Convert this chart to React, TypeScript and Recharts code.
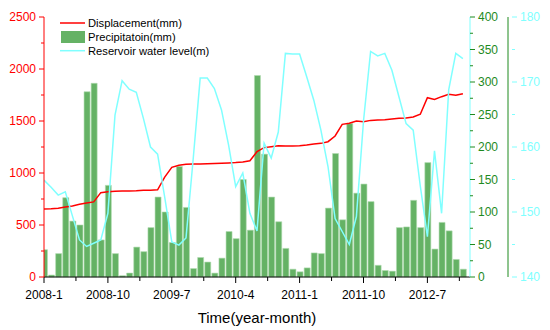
import { Bar, ComposedChart, Label, Legend, Line, XAxis, YAxis } from "recharts"

// monthly values, 2008-1 .. 2012-12
const displacement = [
  655, 657, 662, 673, 683, 699, 712, 722, 811, 820, 825, 828, 828, 829, 834, 835, 838, 960,
  1055, 1074, 1083, 1086, 1087, 1090, 1091, 1093, 1096, 1100, 1106, 1118, 1205, 1244, 1253,
  1263, 1260, 1260, 1263, 1269, 1279, 1285, 1301, 1356, 1468, 1478, 1500, 1493, 1506, 1509,
  1513, 1519, 1526, 1529, 1538, 1565, 1724, 1708, 1734, 1756, 1747, 1763,
]
const precipitation = [
  42, 3, 36, 122, 86, 80, 285, 298, 57, 141, 36, 2, 6, 46, 39, 76, 123, 100, 53, 170, 107, 13,
  30, 23, 6, 29, 70, 59, 150, 72, 310, 189, 123, 85, 44, 12, 8, 14, 37, 36, 106, 190, 88, 236,
  129, 143, 116, 18, 10, 9, 76, 77, 118, 76, 176, 43, 84, 71, 27, 12,
]
const waterLevel = [
  154.9, 153.8, 152.6, 153.1, 149.4, 145.7, 144.7, 145.2, 145.7, 149.8, 164.9, 170.2, 168.9,
  168.4, 164.4, 160.0, 158.9, 152.3, 145.4, 144.9, 146.0, 158.0, 170.6, 170.6, 169.0, 165.7,
  160.3, 153.9, 156.0, 149.8, 147.1, 160.6, 158.3, 162.3, 174.4, 174.3, 174.3, 170.8, 167.2,
  162.6, 157.0, 149.0, 147.0, 145.0, 149.3, 164.0, 174.7, 174.0, 174.4, 171.8, 167.7, 163.6,
  162.6, 154.0, 146.2, 159.4, 149.8, 168.8, 174.4, 173.6,
]

const xMajorTicks = [0, 9, 18, 27, 36, 45, 54]
const xTickLabels = ["2008-1", "2008-10", "2009-7", "2010-4", "2011-1", "2011-10", "2012-7"]
const xMinorTicks = [4.5, 13.5, 22.5, 31.5, 40.5, 49.5, 58.5]
const dispTicks = [0, 250, 500, 750, 1000, 1250, 1500, 1750, 2000, 2250, 2500]
const precTicks = [0, 25, 50, 75, 100, 125, 150, 175, 200, 225, 250, 275, 300, 325, 350, 375, 400]
const levelTicks = [140, 145, 150, 155, 160, 165, 170, 175, 180]

const data = displacement.map((d, i) => ({
  month: i,
  displacement: d,
  precipitation: precipitation[i],
  level: waterLevel[i],
}))

const FONT = "'Liberation Sans', Arial, sans-serif"
const RED = "#ff0000"
const GREEN = "#1e8a1e"
const CYAN = "#80ffff"

const PLOT_LEFT = 44
const PLOT_BOTTOM = 277

const makeYTick =
  (axisX: number, side: number, color: string, step: number) => (props: any) => {
    const { y, payload } = props
    const major = payload.value % step === 0
    const len = major ? 5 : 3
    return (
      <g>
        <line x1={axisX} x2={axisX + side * len} y1={y} y2={y} stroke={color} />
        {major && (
          <text
            x={axisX + side * 8}
            y={y}
            dy="0.36em"
            textAnchor={side < 0 ? "end" : "start"}
            fill={color}
            fontSize={12}
            fontFamily={FONT}
          >
            {payload.value}
          </text>
        )}
      </g>
    )
  }

const XTick = (props: any) => {
  const { x, payload } = props
  const idx = xMajorTicks.indexOf(payload.value)
  const major = idx >= 0
  return (
    <g>
      <line x1={x} x2={x} y1={PLOT_BOTTOM} y2={PLOT_BOTTOM + (major ? 6 : 4)} stroke="#000" />
      {major && (
        <text x={x} y={299} textAnchor="middle" fill="#000" fontSize={12} fontFamily={FONT}>
          {xTickLabels[idx]}
        </text>
      )}
    </g>
  )
}

const LegendBox = () => (
  <svg width={190} height={46} style={{ display: "block" }}>
    <line x1={2} x2={27} y1={9} y2={9} stroke={RED} strokeWidth={1.5} />
    <text x={30} y={9} dy="0.36em" fontSize={11.2} fontFamily={FONT} fill="#000">
      Displacement(mm)
    </text>
    <rect x={3} y={17} width={24} height={12} fill="#3f9f3f" fillOpacity={0.8} />
    <text x={30} y={22.7} dy="0.36em" fontSize={11.2} fontFamily={FONT} fill="#000">
      Precipitatoin(mm)
    </text>
    <line x1={2} x2={27} y1={36.7} y2={36.7} stroke={CYAN} strokeWidth={1.5} />
    <text x={30} y={36.7} dy="0.36em" fontSize={11.2} fontFamily={FONT} fill="#000">
      Reservoir water level(m)
    </text>
  </svg>
)

export default function App() {
  return (
    <div style={{ position: "absolute", left: 0, top: 0, background: "#fff" }}>
      <ComposedChart
        width={550}
        height={330}
        data={data}
        margin={{ top: 17, right: 0, bottom: 0, left: 0 }}
      >
        <XAxis
          dataKey="month"
          type="number"
          domain={[0, 60]}
          ticks={[...xMajorTicks, ...xMinorTicks].sort((a, b) => a - b)}
          interval={0}
          allowDataOverflow
          height={53}
          stroke="#000"
          tickLine={false}
          tick={<XTick />}
        >
          <Label
            value="Time(year-month)"
            position="insideBottom"
            offset={7}
            fill="#000"
            fontSize={15}
            fontFamily={FONT}
          />
        </XAxis>
        <YAxis
          yAxisId="disp"
          width={PLOT_LEFT}
          domain={[0, 2500]}
          ticks={dispTicks}
          interval={0}
          stroke={RED}
          tickLine={false}
          tick={makeYTick(PLOT_LEFT, -1, RED, 500)}
        />
        <YAxis
          yAxisId="prec"
          orientation="right"
          width={42}
          domain={[0, 400]}
          ticks={precTicks}
          interval={0}
          stroke={GREEN}
          tickLine={false}
          tick={makeYTick(470, 1, GREEN, 50)}
        />
        <YAxis
          yAxisId="level"
          orientation="right"
          width={38}
          domain={[140, 180]}
          ticks={levelTicks}
          interval={0}
          stroke={CYAN}
          tickLine={false}
          tick={makeYTick(512, 1, CYAN, 10)}
        />
        <Legend
          content={<LegendBox />}
          layout="vertical"
          align="center"
          verticalAlign="middle"
          wrapperStyle={{ left: 58, top: 14, width: 190, height: 46 }}
        />
        <Line
          yAxisId="disp"
          dataKey="displacement"
          type="linear"
          stroke={RED}
          strokeWidth={1.5}
          dot={false}
          isAnimationActive={false}
        />
        <Bar
          yAxisId="prec"
          dataKey="precipitation"
          barSize={6}
          fill="#3f9f3f"
          fillOpacity={0.8}
          stroke="#b0dcb0"
          strokeWidth={0.6}
          isAnimationActive={false}
        />
        <Line
          yAxisId="level"
          dataKey="level"
          type="linear"
          stroke={CYAN}
          strokeWidth={1.5}
          dot={false}
          isAnimationActive={false}
        />
      </ComposedChart>
    </div>
  )
}
